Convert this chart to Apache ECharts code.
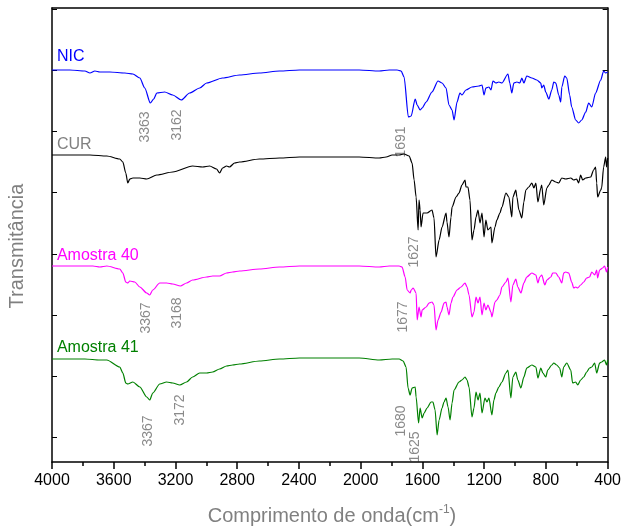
<!DOCTYPE html>
<html><head><meta charset="utf-8">
<script src="https://cdn.jsdelivr.net/npm/echarts@6/dist/echarts.min.js"></script>
<style>html,body{margin:0;padding:0;background:#fff}#c{width:624px;height:529px}</style>
</head><body><div id="c"></div>
<script>
// wavenumber (cm-1) / transmittance (arbitrary units, stacked offsets)
const nicWn = [4000,3884,3787,3754,3722,3690,3625,3528,3476,3431,3399,3363,3341,3321,3270,3218,3162,3108,3043,2998,2895,2785,2656,2526,2397,2203,2009,1880,1815,1764,1738,1719,1691,1673,1647,1634,1615,1602,1576,1538,1499,1473,1447,1428,1408,1395,1376,1357,1344,1318,1279,1234,1214,1201,1189,1169,1156,1143,1124,1105,1085,1046,1034,1021,1008,988,969,956,943,924,891,859,833,827,814,801,781,762,749,736,717,704,697,678,665,646,633,607,588,568,542,523,503,478,445,426,413,400];
const nicT = [392,392,391,389,391,390,390,389,388,384,374,359,363,369,370,367,362,369,374,379,384,387,389,391,392,392,392,391,392,392,391,385,345,346,363,357,352,354,360,370,381,379,374,357,352,342,360,369,367,372,375,376,377,367,374,375,372,381,379,380,379,388,379,369,379,380,379,384,379,386,384,382,379,374,377,370,363,372,380,379,367,360,375,386,384,367,355,342,339,342,350,359,355,369,382,391,389,390];

const curWn = [4000,3884,3754,3645,3561,3541,3522,3509,3496,3476,3431,3386,3321,3218,3089,3024,2979,2934,2914,2895,2869,2850,2817,2785,2656,2526,2397,2203,2009,1880,1835,1796,1751,1719,1686,1667,1654,1641,1628,1622,1615,1609,1596,1570,1538,1525,1512,1492,1473,1447,1441,1428,1415,1408,1382,1363,1344,1324,1318,1305,1292,1279,1266,1253,1240,1227,1214,1201,1189,1176,1156,1150,1130,1118,1098,1085,1059,1040,1021,1014,995,988,975,956,943,930,911,891,878,865,852,833,827,814,794,781,762,736,717,697,672,639,620,601,588,575,562,542,510,491,478,471,465,445,439,426,413,407,400];
const curT = [307,307,307,306,303,300,289,279,283,284,284,283,287,290,296,295,296,293,289,294,296,295,299,300,303,304,305,305,305,304,305,307,307,308,306,299,282,265,232,262,252,235,249,249,252,244,205,222,235,249,240,225,245,255,265,269,277,282,275,275,262,222,232,245,252,239,249,225,242,232,235,219,235,242,249,255,269,265,245,265,272,265,252,244,260,272,275,279,274,279,260,274,277,257,274,277,282,280,279,284,283,284,282,283,279,287,282,284,285,292,295,279,265,272,274,295,305,295,304];

const a40Wn = [4000,3884,3787,3735,3690,3645,3561,3541,3522,3509,3496,3464,3431,3386,3367,3347,3302,3257,3218,3168,3128,3089,2998,2959,2914,2869,2830,2785,2656,2526,2397,2203,2009,1880,1815,1751,1732,1712,1699,1680,1673,1660,1641,1634,1622,1609,1602,1576,1557,1538,1525,1512,1499,1479,1460,1447,1441,1428,1415,1402,1376,1350,1324,1311,1298,1279,1266,1253,1240,1227,1214,1201,1189,1176,1156,1150,1130,1118,1098,1085,1059,1046,1027,1014,995,982,962,943,924,891,865,852,840,827,807,794,768,756,736,717,697,685,672,652,633,620,607,594,575,555,536,517,503,484,471,465,452,433,420,407,400];
const a40T = [196,196,196,196,195,196,193,189,180,179,181,180,175,169,167,172,179,179,178,176,179,182,185,186,186,189,190,191,193,195,196,196,196,195,196,196,195,185,172,169,172,174,169,142,155,145,152,155,159,160,157,132,142,150,159,160,155,147,159,165,172,175,179,175,167,145,150,165,159,165,147,159,152,157,150,145,160,162,167,175,180,184,160,177,183,175,169,179,185,189,187,179,185,187,177,182,185,189,189,185,179,189,190,189,180,174,175,174,177,180,184,185,190,187,192,184,192,194,196,190,195];

const a41Wn = [4000,3884,3787,3690,3645,3561,3541,3522,3509,3476,3431,3386,3367,3347,3302,3257,3218,3172,3128,3089,3043,2998,2959,2914,2869,2830,2785,2656,2526,2397,2203,2009,1880,1796,1751,1725,1706,1693,1680,1667,1647,1641,1625,1615,1602,1589,1570,1544,1532,1518,1505,1492,1473,1460,1447,1434,1421,1408,1395,1363,1344,1324,1311,1298,1279,1266,1253,1240,1227,1214,1195,1182,1169,1150,1137,1124,1105,1085,1059,1046,1027,1014,995,982,962,943,924,891,865,852,833,820,801,788,762,749,730,711,697,685,665,639,627,607,594,575,555,536,517,503,484,471,452,439,420,407,400];
const a41T = [103,103,103,102,102,95,89,79,78,80,75,65,62,69,78,80,79,77,80,85,89,89,90,93,96,97,98,101,103,104,104,104,102,103,103,101,95,74,67,74,75,65,39,54,44,49,54,60,60,52,27,42,54,60,64,55,42,59,72,80,82,85,82,75,45,54,70,62,69,49,64,60,64,47,62,69,75,80,89,92,64,85,90,82,74,85,94,97,95,84,94,89,85,92,97,99,97,94,85,95,99,92,79,80,77,82,85,90,94,95,99,89,99,100,102,97,102];

const seriesNames = ['NIC','CUR','Amostra 40','Amostra 41'];
const seriesColors = ['#0000ff','#000000','#ff00ff','#008000'];
const nameLabelColors = ['#0000ff','#808080','#ff00ff','#008000'];
const nameLabelPos = [[3968,405],[3968,317],[3968,206],[3968,114]];

const yTickValues = [25,86,147,208,270,331,392,453];

// peak annotations: text, wavenumber, transmittance of label centre
const peakText = ['3363','3162','1691','1627','3367','3168','1677','3367','3172','1680','1625'];
const peakWn   = [3399,3186,1738,1654,3393,3192,1725,3380,3173,1738,1647];
const peakT    = [335,337,320,210,144,149,145,31,52,41,15];

const FONT = 'Liberation Sans, Arial, sans-serif';
const chart = echarts.init(document.getElementById('c'), null, {renderer:'canvas'});
const datasets = [[nicWn,nicT],[curWn,curT],[a40Wn,a40T],[a41Wn,a41T]];

const yCommon = {
  type:'value', min:0, max:454,
  axisLine:{show:true, lineStyle:{color:'#000', width:1.5}},
  axisTick:{show:true, inside:true, length:5, customValues:yTickValues, lineStyle:{color:'#000', width:1}},
  axisLabel:{show:false}, splitLine:{show:false}
};

chart.setOption({
  animation:false,
  backgroundColor:'#fff',
  grid:{left:52, right:15, top:8, bottom:67},
  xAxis:[{
    type:'value', min:400, max:4000, interval:400, inverse:true,
    axisLine:{onZero:false, lineStyle:{color:'#000', width:1.5}},
    axisTick:{show:true, inside:false, length:7, lineStyle:{color:'#000', width:1.5}},
    minorTick:{show:true, splitNumber:2, length:4, lineStyle:{color:'#000', width:1.5}},
    axisLabel:{fontFamily:FONT, fontSize:16, color:'#000', margin:11,
      formatter: v => String(v)},
    splitLine:{show:false}
  },{
    type:'value', min:400, max:4000, inverse:true, position:'top',
    axisLine:{onZero:false, lineStyle:{color:'#000', width:1.5}},
    axisTick:{show:false}, axisLabel:{show:false}, splitLine:{show:false}
  }],
  yAxis:[Object.assign({position:'left'}, yCommon), Object.assign({position:'right'}, yCommon)],
  series: datasets.map((d,i)=>({
    type:'line', name:seriesNames[i], xAxisIndex:0, yAxisIndex:0,
    data:d[0].map((w,j)=>[w,d[1][j]]),
    showSymbol:false, smooth:0.25, smoothMonotone:'x',
    lineStyle:{color:seriesColors[i], width:1.2}
  }))
});

function drawGraphics(){
  const els = [];
  peakText.forEach((t,i)=>{
    const p = chart.convertToPixel({xAxisIndex:0, yAxisIndex:0}, [peakWn[i], peakT[i]]);
    els.push({type:'text', x:p[0], y:p[1], rotation:Math.PI/2,
      style:{text:t, fill:'#8a8a8a', font:'14px '+FONT, align:'center', verticalAlign:'middle'}});
  });
  seriesNames.forEach((n,i)=>{
    const p = chart.convertToPixel({xAxisIndex:0, yAxisIndex:0}, nameLabelPos[i]);
    els.push({type:'text', x:p[0], y:p[1],
      style:{text:n, fill:nameLabelColors[i], font:'16px '+FONT, align:'left', verticalAlign:'middle'}});
  });
  els.push({type:'text', x:17, y:246, rotation:Math.PI/2,
    style:{text:'Transmitância', fill:'#808080', font:'20px '+FONT, align:'center', verticalAlign:'middle'}});
  els.push({type:'text', x:332, y:516,
    style:{text:'{a|Comprimento de onda(cm}{s|-1}{a|)}', align:'center', verticalAlign:'middle',
      rich:{a:{fontSize:20, fontFamily:FONT, fill:'#808080', color:'#808080'},
            s:{fontSize:12, fontFamily:FONT, fill:'#808080', color:'#808080', padding:[0,0,12,0]}}}});
  chart.setOption({graphic:{elements:els}});
}
drawGraphics();
</script></body></html>
